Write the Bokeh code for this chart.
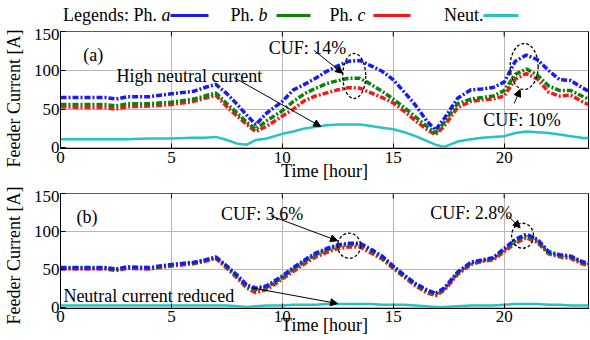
import math
from bokeh.plotting import figure
from bokeh.layouts import column, row
from bokeh.models import Range1d, FixedTicker, Label, Arrow, NormalHead, ColumnDataSource
from bokeh.embed import file_html
from bokeh.resources import INLINE
from bokeh.core.properties import value

# ---------------- data ----------------
hours = [0, 1, 2, 2.5, 3, 4, 5, 6, 6.5, 7, 7.5, 8, 8.4, 8.8, 9.3, 10, 10.5, 11, 11.5, 12,
         12.5, 13, 13.5, 14, 14.5, 15, 15.5, 16, 16.5, 16.9, 17.3, 17.9, 18.5, 19, 19.5, 20,
         20.5, 21, 21.5, 22, 22.5, 23, 23.5, 24]

# (a) before compensation
a_top = [65, 65, 65, 63, 66, 66, 70, 73, 78, 82, 70, 55, 42, 30, 45, 60, 75, 82, 90, 99,
         106, 112, 113, 106, 99, 88, 72, 55, 35, 23, 38, 64, 75, 76, 78, 85,
         112, 120, 114, 100, 88, 87, 78, 70]
b_top = [56, 56, 56, 54, 57, 57, 59, 63, 67, 71, 57, 44, 33, 24, 35, 48, 60, 70, 77, 83,
         87, 90, 90, 82, 73, 63, 52, 40, 28, 19, 33, 57, 63, 65, 67, 74,
         95, 102, 94, 80, 74, 74, 67, 60]
c_top = [53, 52, 52, 50, 53, 54, 56, 60, 64, 68, 53, 40, 30, 21, 28, 41, 50, 61, 67, 71,
         75, 78, 77, 71, 65, 58, 47, 35, 24, 17, 28, 52, 60, 62, 63, 67,
         89, 96, 89, 72, 67, 68, 60, 53]
n_top = [11, 11, 11, 11, 11, 12, 12, 13, 13, 14, 10, 5, 4, 10, 12, 18, 21, 25, 27, 29,
         30, 30, 30, 28, 26, 24, 20, 15, 9, 4, 1, 8, 11, 13, 14, 15,
         19, 21, 20, 19, 17, 15, 13, 12]

# (b) after compensation
a_bot = [53, 53, 53, 51, 54, 53, 57, 60, 63, 67, 55, 42, 30, 26, 29, 42, 53, 63, 72, 78,
         83, 85, 85, 77, 68, 55, 43, 32, 24, 19, 26, 47, 60, 63, 66, 78,
         90, 97, 90, 74, 70, 68, 61, 57]
b_bot = [52, 52, 52, 50, 53, 52, 56, 59, 62, 66, 54, 40, 28, 24, 27, 40, 51, 61, 70, 76,
         81, 83, 83, 75, 66, 54, 42, 31, 22, 18, 25, 46, 59, 62, 65, 76,
         88, 95, 88, 72, 69, 67, 60, 56]
c_bot = [51, 51, 51, 49, 52, 51, 55, 58, 61, 65, 52, 38, 26, 20, 24, 38, 48, 58, 67, 73,
         78, 80, 80, 72, 64, 52, 40, 29, 20, 16, 23, 44, 57, 61, 63, 74,
         85, 92, 86, 71, 67, 65, 58, 54]
n_bot = [3, 3, 3, 3, 3, 3, 3, 3, 3, 3, 3, 2, 1, 2, 3, 3, 4, 4, 4, 5,
         5, 5, 5, 5, 4, 4, 4, 3, 2, 1, 1, 2, 3, 3, 3, 4,
         5, 5, 5, 4, 4, 3, 3, 3]

x_ticks = [0, 5, 10, 15, 20]
y_ticks = [0, 50, 100, 150]
x_title = "Time [hour]"
y_title = "Feeder Current [A]"

legend_labels = ["Legends: Ph.", "Ph.", "Ph.", "Neut."]
legend_italic = ["a", "b", "c", ""]

# ---------------- style ----------------
FONT = "Liberation Serif"
C_A = "#1a1af5"
C_B = "#0b820b"
C_C = "#f51818"
C_N = "#25c3c3"
GRID = "#b8b8b8"
PAGE_W = 590
TOTAL_H = 339
LEG_H = 28
LEFT_W = 30          # strip holding the rotated y titles
MAIN_W = PAGE_W - LEFT_W
TOP_H = 162
BOT_H = TOTAL_H - LEG_H - TOP_H
X_MAX = 23.8


def make_panel(height, yr, bt, bb, tick_standoff, title_standoff):
    p = figure(width=MAIN_W, height=height, x_range=Range1d(0, X_MAX), y_range=yr,
               output_backend="svg", toolbar_location=None,
               min_border_left=29, min_border_right=2, min_border_top=bt,
               min_border_bottom=bb)
    p.outline_line_color = "black"
    p.outline_line_width = 1
    p.background_fill_color = "white"
    p.border_fill_color = "white"
    p.xaxis.ticker = FixedTicker(ticks=x_ticks)
    p.yaxis.ticker = FixedTicker(ticks=y_ticks)
    p.xgrid.ticker = FixedTicker(ticks=x_ticks)
    p.ygrid.ticker = FixedTicker(ticks=y_ticks)
    for g in (p.xgrid, p.ygrid):
        g.grid_line_color = GRID
        g.grid_line_width = 1
    for ax in (p.xaxis, p.yaxis):
        ax.major_tick_in = 5
        ax.major_tick_out = 0
        ax.minor_tick_line_color = None
        ax.axis_line_color = "black"
        ax.major_tick_line_color = "black"
        ax.major_label_text_font = FONT
        ax.major_label_text_font_size = "17px"
        ax.major_label_text_color = "black"
    p.xaxis.major_label_standoff = tick_standoff
    p.yaxis.major_label_standoff = 1
    p.xaxis.axis_label = x_title
    p.xaxis.axis_label_text_font = FONT
    p.xaxis.axis_label_text_font_size = "18px"
    p.xaxis.axis_label_text_font_style = "normal"
    p.xaxis.axis_label_text_color = "black"
    p.xaxis.axis_label_standoff = title_standoff
    # mirrored tick marks on the top edge of the box
    frame_h = height - bt - bb
    top = yr.end
    d = (yr.end - yr.start) * 5.0 / frame_h
    n = len(x_ticks) - 1
    p.segment(x0=x_ticks[1:], y0=[top] * n, x1=x_ticks[1:], y1=[top - d] * n,
              line_color="black", line_width=1)
    return p


def draw(p, a, b, c, n):
    src = ColumnDataSource(dict(h=hours, a=a, b=b, c=c, n=n))
    p.line("h", "n", source=src, color=C_N, line_width=2.5)
    p.line("h", "c", source=src, color=C_C, line_width=3.5, line_dash="6 2 2 2")
    p.line("h", "b", source=src, color=C_B, line_width=3.5, line_dash="6 2 2 2")
    p.line("h", "a", source=src, color=C_A, line_width=3.5, line_dash="6 2 2 2")


def txt(p, x, y, s, align="left", size="18px"):
    p.add_layout(Label(x=x, y=y, text=s, text_font=FONT, text_font_size=size,
                       text_color="black", text_align=align, text_baseline="alphabetic"))


def arrow(p, x0, y0, x1, y1):
    p.add_layout(Arrow(end=NormalHead(size=7, fill_color="black", line_color="black"),
                       x_start=x0, y_start=y0, x_end=x1, y_end=y1,
                       line_color="black", line_width=1))


def ring(p, x, y, w, h):
    p.ellipse(x=x, y=y, width=w, height=h, width_units="screen", height_units="screen",
              fill_color=None, line_color="black", line_width=1.3, line_dash="3 2")


def blank(width, height, xr, yr):
    f = figure(width=width, height=height, x_range=xr, y_range=yr,
               x_axis_type=None, y_axis_type=None, output_backend="svg",
               toolbar_location=None, min_border_left=0, min_border_right=0,
               min_border_top=0, min_border_bottom=0)
    f.grid.visible = False
    f.outline_line_color = None
    return f


# ---------------- legend strip, full width (page coords, y negated) ----------------
leg = blank(PAGE_W, LEG_H, Range1d(0, PAGE_W), Range1d(-LEG_H, 0))
LEG_Y = -15
LEG_MID = -14.4
leg_line_x0 = [170, 276, 373, 483]
leg_line_x1 = [208, 310, 410, 518]
leg_colors = [C_A, C_B, C_C, C_N]
leg.segment(x0=leg_line_x0, y0=[LEG_Y] * 4, x1=leg_line_x1, y1=[LEG_Y] * 4,
            color=leg_colors, line_width=3)
it_ends = [170, 267, 365, 483]
gap = [13.5, 13.5, 12.5, 0]
for i in range(4):
    if legend_italic[i]:
        leg.text(x=[it_ends[i]], y=[LEG_MID], text=[legend_italic[i]], text_font=value(FONT),
                 text_font_size="18px", text_font_style="italic", text_align="right",
                 text_baseline="middle", text_color="black")
    leg.text(x=[it_ends[i] - gap[i]], y=[LEG_MID], text=[legend_labels[i]],
             text_font=value(FONT), text_font_size="18px", text_align="right",
             text_baseline="middle", text_color="black")

# ---------------- left strip with the rotated y titles (page coords, y negated) ----------
ylab = blank(LEFT_W, TOTAL_H - LEG_H, Range1d(0, LEFT_W), Range1d(-TOTAL_H, -LEG_H))
ylab.text(x=[13, 13], y=[-98, -255], text=[y_title, y_title], angle=math.pi / 2,
          text_font=value(FONT), text_font_size="18px", text_align="center",
          text_baseline="middle", text_color="black")

# ---------------- panel (a) ----------------
pa = make_panel(TOP_H, Range1d(-1, 150.5), 3, 42, 3, -5)
draw(pa, a_top, b_top, c_top, n_top)
txt(pa, 1.03, 120.5, "(a)")
txt(pa, 9.39, 129, "CUF: 14%")
txt(pa, 19.06, 36.5, "CUF: 10%")
txt(pa, 2.52, 93, "High neutral current")
arrow(pa, 11.42, 126.2, 12.72, 96.4)
arrow(pa, 20.45, 57.3, 20.72, 75.4)
arrow(pa, 7.82, 90.9, 11.73, 27.5)
ring(pa, 13.24, 92.9, 23, 45)
ring(pa, 20.9, 105.2, 28, 46)

# ---------------- panel (b) ----------------
pb = make_panel(BOT_H, Range1d(-0.9, 150.4), 3, 31, 2, -10)
draw(pb, a_bot, b_bot, c_bot, n_bot)
txt(pb, 0.72, 119.7, "(b)")
txt(pb, 7.24, 123.6, "CUF: 3.6%")
txt(pb, 16.67, 124.9, "CUF: 2.8%")
txt(pb, 0.13, 16.1, "Neutral current reduced")
arrow(pb, 9.48, 121, 12.49, 88.2)
arrow(pb, 20.18, 121, 20.72, 105.2)
arrow(pb, 8.6, 26.4, 12.49, 5.6)
ring(pb, 13.01, 81.7, 23, 25)
ring(pb, 20.83, 94.8, 22, 25)

layout = column(leg, row(ylab, column(pa, pb, spacing=0), spacing=0), spacing=0)
open("out.html", "w").write(file_html(layout, INLINE))
